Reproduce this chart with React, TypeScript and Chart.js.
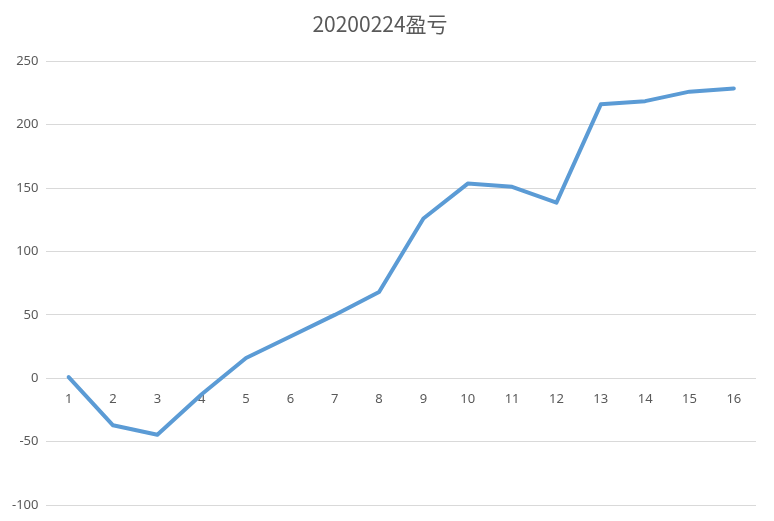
import React, { useEffect, useRef } from "react";
import { Chart, registerables } from "chart.js";

Chart.register(...registerables);

const title = "20200224盈亏";
const categories = ["1", "2", "3", "4", "5", "6", "7", "8", "9", "10", "11", "12", "13", "14", "15", "16"];
const profit = [1, -37, -44.5, -12.5, 16, 33, 50, 68, 126, 153.5, 151, 138.5, 216, 218.5, 226, 228.5];
const yMin = -100;
const yMax = 250;
const yStep = 50;

export default function App() {
  const ref = useRef<HTMLCanvasElement | null>(null);
  useEffect(() => {
    document.body.style.margin = "0";
    document.body.style.background = "#ffffff";
    if (!ref.current) return;
    const chart = new Chart(ref.current, {
      type: "line",
      data: {
        labels: categories,
        datasets: [
          {
            label: title,
            data: profit,
            borderColor: "#5B9BD5",
            backgroundColor: "#5B9BD5",
            borderWidth: 4,
            pointRadius: 0,
            tension: 0,
            borderJoinStyle: "round",
            borderCapStyle: "round",
          },
        ],
      },
      options: {
        animation: false,
        responsive: false,
        maintainAspectRatio: false,
        layout: { padding: { left: 4, right: 18, top: 11, bottom: 8 } },
        plugins: {
          legend: { display: false },
          tooltip: { enabled: false },
          title: {
            display: true,
            text: title,
            color: "#595959",
            font: { family: '"Noto Sans CJK SC", "Noto Sans", sans-serif', size: 21, weight: "normal" },
            padding: { top: 0, bottom: 25 },
          },
        },
        scales: {
          x: {
            type: "category",
            position: { y: 0 } as any,
            offset: true,
            grid: { display: false, drawTicks: false },
            border: { display: false },
            ticks: {
              color: "#595959",
              font: { family: '"Noto Sans", sans-serif', size: 13 },
              padding: 13,
              maxRotation: 0,
              autoSkip: false,
            },
          },
          y: {
            min: yMin,
            max: yMax,
            grid: { color: "#d9d9d9", drawTicks: false, lineWidth: 1 },
            border: { display: false },
            ticks: {
              stepSize: yStep,
              color: "#595959",
              font: { family: '"Noto Sans", sans-serif', size: 13 },
              padding: 8,
            },
          },
        },
      },
    });
    return () => chart.destroy();
  }, []);
  return (
    <div style={{ width: 774, height: 521, background: "#fff" }}>
      <canvas ref={ref} width={774} height={521} style={{ width: 774, height: 521, display: "block" }} />
    </div>
  );
}
